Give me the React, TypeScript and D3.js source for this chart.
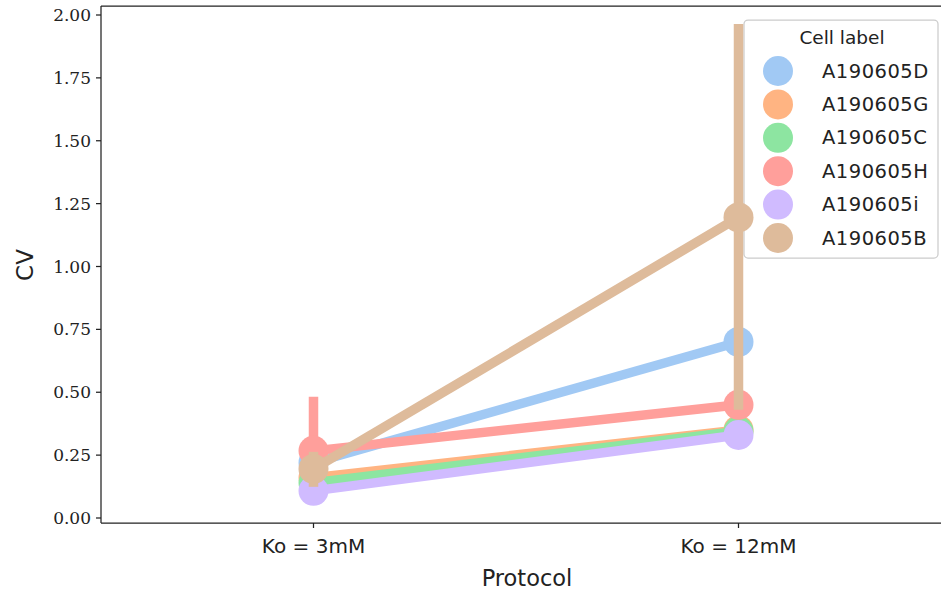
import React from "react";
import * as d3 from "d3";

// Protocol categories on the x axis
const protocols = ["Ko = 3mM", "Ko = 12mM"];

// Cell labels (legend order) and their pastel colours
const cells = ["A190605D", "A190605G", "A190605C", "A190605H", "A190605i", "A190605B"];
const colors = ["#a1c9f4", "#ffb482", "#8de5a1", "#ff9f9b", "#d0bbff", "#debb9b"];

// Mean CV per cell, one value per protocol
const cvD = [0.22, 0.7];
const cvG = [0.16, 0.35];
const cvC = [0.14, 0.345];
const cvH = [0.267, 0.45];
const cvI = [0.108, 0.33];
const cvB = [0.195, 1.195];

// Confidence intervals [low, high] per protocol (null when not shown)
const ciD: ([number, number] | null)[] = [null, null];
const ciG: ([number, number] | null)[] = [null, null];
const ciC: ([number, number] | null)[] = [null, null];
const ciH: ([number, number] | null)[] = [[0.1, 0.482], null];
const ciI: ([number, number] | null)[] = [null, null];
const ciB: ([number, number] | null)[] = [[0.124, 0.263], [0.43, 1.964]];

const yTicks = [0, 0.25, 0.5, 0.75, 1.0, 1.25, 1.5, 1.75, 2.0];

const series = [
  { name: cells[0], color: colors[0], values: cvD, ci: ciD },
  { name: cells[1], color: colors[1], values: cvG, ci: ciG },
  { name: cells[2], color: colors[2], values: cvC, ci: ciC },
  { name: cells[3], color: colors[3], values: cvH, ci: ciH },
  { name: cells[4], color: colors[4], values: cvI, ci: ciI },
  { name: cells[5], color: colors[5], values: cvB, ci: ciB },
];

const W = 941;
const H = 592;
const left = 101;
const right = 960; // axes extends past the visible right edge
const top = 6;
const bottom = 523;

export default function App() {
  const x = d3.scalePoint<string>().domain(protocols).range([313.5, 738.5]);
  const y = d3.scaleLinear().domain([0, 2]).range([518, 15]);
  const line = d3
    .line<number>()
    .x((_, i) => x(protocols[i]) as number)
    .y((d) => y(d));

  const tickFont = "'DejaVu Serif', serif";
  const sansFont = "'DejaVu Sans', sans-serif";

  return (
    <svg
      width={W}
      height={H}
      style={{ position: "absolute", left: 0, top: 0, background: "#fff" }}
    >
      {/* legend */}
      <g>
        <rect
          x={744}
          y={20}
          width={194}
          height={238}
          rx={4}
          fill="#fff"
          fillOpacity={0.8}
          stroke="#ccc"
          strokeWidth={1.25}
        />
        <text
          x={842}
          y={44}
          textAnchor="middle"
          fontFamily={sansFont}
          fontSize={18.5}
          fill="#222"
        >
          Cell label
        </text>
        {series.map((s, i) => (
          <g key={s.name}>
            <circle cx={778} cy={71 + i * 33.4} r={15} fill={s.color} />
            <text
              x={822}
              y={71 + i * 33.4 + 6.5}
              fontFamily={sansFont}
              fontSize={19.5}
              letterSpacing={0.5}
              fill="#222"
            >
              {s.name}
            </text>
          </g>
        ))}
      </g>

      {/* data */}
      {series.map((s) => (
        <g key={s.name}>
          <path
            d={line(s.values) || ""}
            fill="none"
            stroke={s.color}
            strokeWidth={9.5}
          />
          {s.ci.map((c, i) =>
            c ? (
              <line
                key={"ci" + i}
                x1={x(protocols[i])}
                x2={x(protocols[i])}
                y1={y(c[0])}
                y2={y(c[1])}
                stroke={s.color}
                strokeWidth={9.5}
              />
            ) : null
          )}
          {s.values.map((v, i) => (
            <circle
              key={"pt" + i}
              cx={x(protocols[i])}
              cy={y(v)}
              r={15}
              fill={s.color}
            />
          ))}
        </g>
      ))}

      {/* frame */}
      <line x1={left} x2={right} y1={top} y2={top} stroke="#222" strokeWidth={1.25} />
      <line x1={left} x2={right} y1={bottom} y2={bottom} stroke="#222" strokeWidth={1.25} />
      <line x1={left} x2={left} y1={top} y2={bottom} stroke="#222" strokeWidth={1.25} />

      {/* y axis */}
      {yTicks.map((t) => (
        <g key={t}>
          <line x1={left - 5} x2={left} y1={y(t)} y2={y(t)} stroke="#222" strokeWidth={1.25} />
          <text
            x={left - 10}
            y={y(t)}
            textAnchor="end"
            dominantBaseline="central"
            fontFamily={tickFont}
            fontSize={17}
            fill="#222"
          >
            {t.toFixed(2)}
          </text>
        </g>
      ))}
      <text
        transform={`translate(33, 265) rotate(-90)`}
        textAnchor="middle"
        fontFamily={sansFont}
        fontSize={23}
        fill="#222"
      >
        CV
      </text>

      {/* x axis */}
      {protocols.map((p) => (
        <g key={p}>
          <line
            x1={x(p)}
            x2={x(p)}
            y1={bottom}
            y2={bottom + 5}
            stroke="#222"
            strokeWidth={1.25}
          />
          <text
            x={x(p)}
            y={553}
            textAnchor="middle"
            fontFamily={sansFont}
            fontSize={20}
            fill="#222"
          >
            {p}
          </text>
        </g>
      ))}
      <text
        x={527}
        y={586}
        textAnchor="middle"
        fontFamily={sansFont}
        fontSize={22.5}
        fill="#222"
      >
        Protocol
      </text>
    </svg>
  );
}
